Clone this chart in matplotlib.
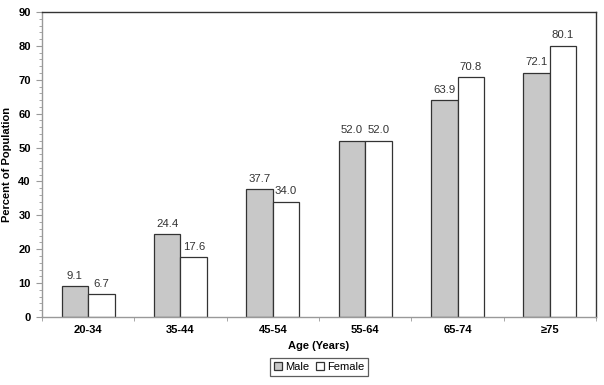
import matplotlib
matplotlib.use("Agg")
import matplotlib.pyplot as plt
import numpy as np
from matplotlib.ticker import MultipleLocator, FixedLocator

plt.rcParams['font.family'] = ['Liberation Sans', 'DejaVu Sans']

categories = ["20-34", "35-44", "45-54", "55-64", "65-74", "≥75"]
male = [9.1, 24.4, 37.7, 52.0, 63.9, 72.1]
female = [6.7, 17.6, 34.0, 52.0, 70.8, 80.1]

fig = plt.figure(figsize=(6.04, 3.85), dpi=100)
ax = fig.add_axes([0.0695, 0.1766, 0.9173, 0.7922])

x = np.arange(len(categories))
w = 0.287
b1 = ax.bar(x - w/2, male, w, color="#c8c8c8", edgecolor="#333333", linewidth=0.9, label="Male")
b2 = ax.bar(x + w/2, female, w, color="white", edgecolor="#333333", linewidth=0.9, label="Female")

for rect, v in zip(b1, male):
    ax.text(rect.get_x() + rect.get_width()/2, v + 1.6, f"{v:.1f}", ha="center", va="bottom",
            fontsize=8.2, color="#333333")
for rect, v in zip(b2, female):
    ax.text(rect.get_x() + rect.get_width()/2, v + 1.6, f"{v:.1f}", ha="center", va="bottom",
            fontsize=8.2, color="#333333")

ax.set_xlim(-0.5, len(categories) - 0.5)
ax.set_ylim(0, 90)
ax.yaxis.set_major_locator(MultipleLocator(10))
ax.yaxis.set_minor_locator(MultipleLocator(2))
ax.set_xticks(x)
ax.set_xticklabels(categories, fontweight="bold", fontsize=8)
ax.xaxis.set_minor_locator(FixedLocator(np.arange(-0.5, len(categories), 1.0)))
ax.tick_params(axis="x", which="major", length=0, pad=6)
ax.tick_params(axis="x", which="minor", length=3, color="#999999")
ax.tick_params(axis="y", which="major", length=4, color="#999999", labelsize=8, pad=4)
ax.tick_params(axis="y", which="minor", length=2, color="#999999")
for lab in ax.get_yticklabels():
    lab.set_fontweight("bold")

for s in ["left", "bottom"]:
    ax.spines[s].set_color("#999999")
for s in ["top", "right"]:
    ax.spines[s].set_color("#333333")
for s in ax.spines.values():
    s.set_linewidth(1.0)

ax.set_ylabel("Percent of Population", fontweight="bold", fontsize=8)
ax.yaxis.set_label_coords(-0.054, 0.5)
ax.set_xlabel("Age (Years)", fontweight="bold", fontsize=8, labelpad=4)

leg = ax.legend(loc="upper center", bbox_to_anchor=(0.5, -0.135), ncol=2, fontsize=8,
                frameon=True, fancybox=False, edgecolor="#333333", handlelength=0.7,
                handleheight=0.7, handletextpad=0.3, columnspacing=0.6, borderpad=0.35,
                borderaxespad=0)
leg.get_frame().set_linewidth(0.9)

fig.savefig("out.png", dpi=100)
